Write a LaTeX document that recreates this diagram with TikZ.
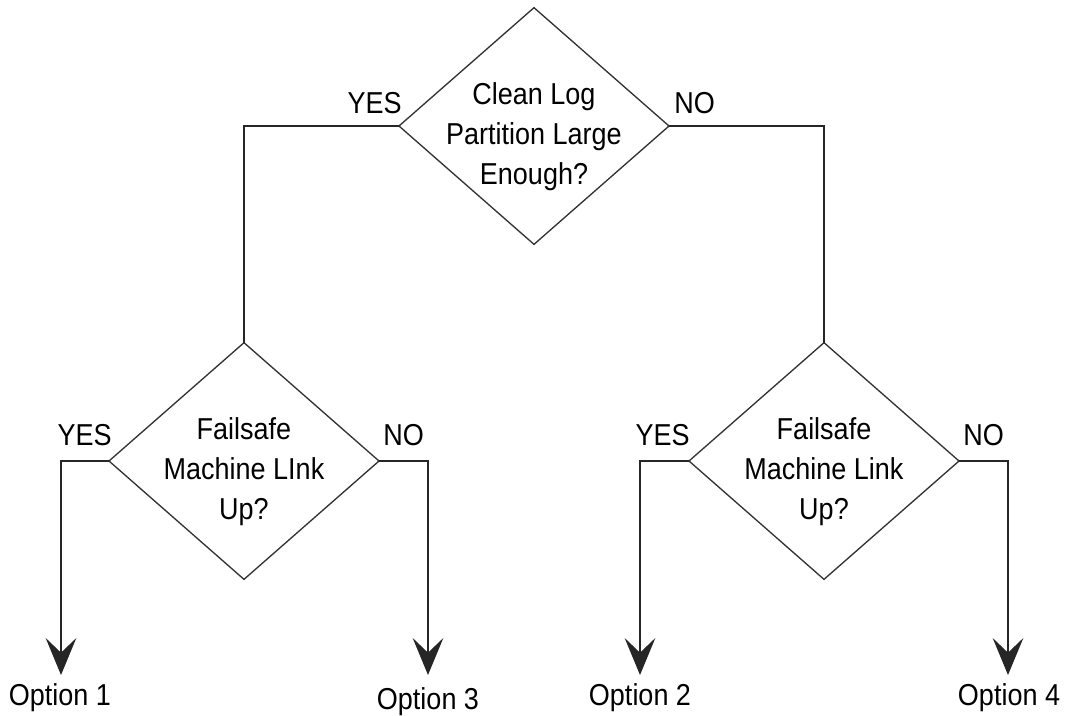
\documentclass[tikz,border=0pt]{standalone}
\usepackage{fontspec}
\usepackage{graphicx}
\setmainfont{Liberation Sans}
\usetikzlibrary{shapes.geometric,arrows.meta}
\newcommand{\vst}[1]{\scalebox{1}[1.12]{#1}}
\begin{document}
\begin{tikzpicture}[x=0.75pt,y=-0.75pt,
  dec/.style={draw=black!80, line width=1pt, shape=diamond, inner sep=0pt, outer sep=0pt,
              minimum width=202.5pt, minimum height=177.5pt},
  lbl/.style={font=\fontsize{20.25}{30}\selectfont, inner sep=0pt, text=black},
  qtext/.style={lbl, align=center},
  conn/.style={draw=black!85, line width=1.1pt},
  arr/.style={conn, -{Stealth[length=27.75pt,width=23pt,inset=11pt]}}]
\useasboundingbox (0,0) rectangle (1066,715);
% decision diamonds
\node[dec] (t) at (534,126) {};
\node[dec] (l) at (244,461) {};
\node[dec] (r) at (824,461) {};
\node[qtext] (tq) at (534,137) {\vst{Clean Log}\\\vst{Partition Large}\\\vst{Enough?}};
\node[qtext] (lq) at (244,472) {\vst{Failsafe}\\\vst{Machine LInk}\\\vst{Up?}};
\node[qtext] (rq) at (824,472) {\vst{Failsafe}\\\vst{Machine Link}\\\vst{Up?}};
% branch labels
\node[lbl, anchor=base east] (ty) at (402,113) {\vst{YES}};
\node[lbl, anchor=base west] (tn) at (674,113) {\vst{NO}};
\node[lbl, anchor=base east] (ly) at (112,445) {\vst{YES}};
\node[lbl, anchor=base west] (ln) at (383,445) {\vst{NO}};
\node[lbl, anchor=base east] (ry) at (690,445) {\vst{YES}};
\node[lbl, anchor=base west] (rn) at (963,445) {\vst{NO}};
% outcomes
\node[lbl, anchor=base] (o1) at (60,705) {\vst{Option 1}};
\node[lbl, anchor=base] (o3) at (428,709) {\vst{Option 3}};
\node[lbl, anchor=base] (o2) at (640,705) {\vst{Option 2}};
\node[lbl, anchor=base] (o4) at (1009,705) {\vst{Option 4}};
\coordinate (a1) at (61,675);
\coordinate (a3) at (428,675);
\coordinate (a2) at (640,675);
\coordinate (a4) at (1008,675);
% connectors
\draw[conn] (t.west) -| (l.north);
\draw[conn] (t.east) -| (r.north);
\draw[arr] (l.west) -| (a1);
\draw[arr] (l.east) -| (a3);
\draw[arr] (r.west) -| (a2);
\draw[arr] (r.east) -| (a4);
\end{tikzpicture}
\end{document}
